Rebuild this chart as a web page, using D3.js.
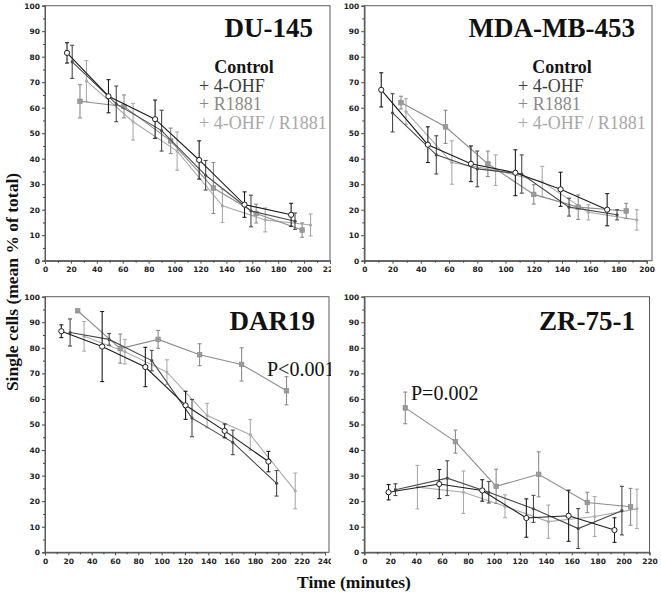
<!DOCTYPE html>
<html><head><meta charset="utf-8">
<script src="https://cdn.jsdelivr.net/npm/d3@7"></script>
<style>html,body{margin:0;padding:0;background:#fff}svg{display:block}</style>
</head><body>
<svg id="chart" width="661" height="596"></svg>
<script>
// ---------- data ----------
const seriesNames = ["Control", "+ 4-OHF", "+ R1881", "+ 4-OHF / R1881"];
const panelTitles = ["DU-145", "MDA-MB-453", "DAR19", "ZR-75-1"];
const yTicks = [0,10,20,30,40,50,60,70,80,90,100];
const xTicks220 = [0,20,40,60,80,100,120,140,160,180,200,220];
const xTicks200 = [0,20,40,60,80,100,120,140,160,180,200];
const xTicks240 = [0,20,40,60,80,100,120,140,160,180,200,220,240];

// series order: Control, 4-OHF, R1881, 4-OHF/R1881
const du145Time = [[17,49,85,119,154,190],[21,55,90,124,159,193],[27,61,97,130,163,198.5],[32,68,102,137,170,205]];
const du145Mean = [[81.5,64.5,55.5,39.5,22,18],[78,61.5,51,33.5,19.5,15.5],[62.5,60.5,47,28.5,18.5,12],[70.5,54.5,43,21.5,16,14]];
const du145Err  = [[4,6.5,7.5,7.5,5,4.5],[6.5,7,8,5.8,6.2,3.2],[6.5,4.5,5,10,3.7,2.8],[8,7.2,7.5,6.5,4.7,4.3]];

const mdaTime = [[12,45,75.5,107,139,172],[20,51,80,111.5,145,179],[26,57.5,87.5,120,151.5,185.5],[29.5,62,93,126,158.7,193]];
const mdaMean = [[67,45.5,38,34.5,28,20],[58,41.5,36,34,21,18],[62,52.5,38,26,21,19.5],[58.5,38.5,35.5,31,19,16]];
const mdaErr  = [[6.7,7,7,9,6.7,6.3],[7.5,7.5,7,7.5,3.5,2],[2.5,6.5,5,3.8,4.8,3],[5,8.5,6,6,3,4]];

const dar19Time = [[14,49,86,120.5,154,191.5],[21.5,55,91.5,126,161,198.5],[28,64.5,97,132.5,168.5,207],[33.5,68.5,104.5,139,176,214.5]];
const dar19Mean = [[86.5,80.5,72.5,57.5,47.5,35.5],[86,83.3,75,52.5,43,27],[94.5,79.7,83.3,77.3,73.5,63.2],[84.5,78.5,70.5,53.5,46,24]];
const dar19Err  = [[2.5,13.7,7.7,5.5,2.7,4],[5.3,2.3,4,7.3,4.8,5],[0,5.7,3.5,4.3,6.5,5.5],[5.8,4.8,4.8,4.8,6,7]];

const zrTime = [[18.7,57.8,91,125,157.6,193],[24,64,96,130.5,165,198.7],[31.6,70.3,101.7,134.5,172,205.4],[41,76.5,108.5,142,177.7,210.3]];
const zrMean = [[23.5,26.7,24.2,13.4,14.3,8.7],[24.5,29,23.5,17,9.3,16.3],[56.5,43.3,25.8,30.5,19.5,17.8],[25.5,23.5,18,12,14,17]];
const zrErr  = [[3,5.7,4.2,7.5,10,4.8],[2.3,6.8,4.2,5.3,7.8,9.5],[6.2,4.5,6.7,8.8,4,7.2],[8.5,8.3,4.5,6.5,7.8,7.7]];

const pLabels = ["", "", "P<0.001", "P=0.002"];

// ---------- styles ----------
const lineColors = ["#1c1c1c", "#4a4a4a", "#8c8c8c", "#ababab"];
const legendColors = ["#151515", "#3c3c3c", "#8a8a8a", "#a8a8a8"];
const serif = "'Liberation Serif','Times New Roman',serif";
const sans = "'DejaVu Sans',Verdana,sans-serif";

const svg = d3.select("#chart");

const defs = svg.append("defs");
defs.append("clipPath").attr("id","leftClip").append("rect")
  .attr("x",0).attr("y",0).attr("width",331).attr("height",596);

const layouts = [
  {time: du145Time, mean: du145Mean, err: du145Err, xd:[0,220], xr:[45,330], yr:[260.7,5.7], boxR:330, xt:xTicks220, clip:true,
   title:{x:313, y:37}, legend:{cx:244, x:199, y:73}, p:null},
  {time: mdaTime, mean: mdaMean, err: mdaErr, xd:[0,200], xr:[364.3,646.7], yr:[260.7,5.7], boxR:652, xt:xTicks200, clip:false,
   title:{x:635, y:37}, legend:{cx:562, x:518, y:73}, p:null},
  {time: dar19Time, mean: dar19Mean, err: dar19Err, xd:[0,240], xr:[45,325], yr:[552.3,296.7], boxR:329, xt:xTicks240, clip:true,
   title:{x:315, y:330}, legend:null, p:{x:267, y:376}},
  {time: zrTime, mean: zrMean, err: zrErr, xd:[0,220], xr:[364.3,649.5], yr:[552.3,296.7], boxR:649.5, xt:xTicks220, clip:false,
   title:{x:635, y:330}, legend:null, p:{x:411, y:399.5}}
];

layouts.forEach((L, pi) => {
  const g = svg.append("g");
  if (L.clip) g.attr("clip-path","url(#leftClip)");
  const x = d3.scaleLinear().domain(L.xd).range(L.xr);
  const y = d3.scaleLinear().domain([0,100]).range(L.yr);

  // frame
  g.append("rect").attr("x", L.xr[0]).attr("y", L.yr[1])
    .attr("width", L.boxR - L.xr[0]).attr("height", L.yr[0]-L.yr[1])
    .attr("fill","none").attr("stroke","#5a5a5a").attr("stroke-width",1);

  // y axis
  const yAxis = d3.axisLeft(y).tickValues(yTicks).tickSize(3).tickPadding(2).tickFormat(d3.format("d"));
  g.append("g").attr("transform",`translate(${L.xr[0]},0)`).call(yAxis);
  const yMinor = d3.axisLeft(y).tickValues(d3.range(5,100,10)).tickSize(2).tickFormat("");
  g.append("g").attr("transform",`translate(${L.xr[0]},0)`).call(yMinor);
  // x axis
  const xAxis = d3.axisBottom(x).tickValues(L.xt).tickSize(3).tickPadding(3).tickFormat(d3.format("d"));
  g.append("g").attr("transform",`translate(0,${L.yr[0]})`).call(xAxis);
  const xMinor = d3.axisBottom(x).tickValues(d3.range(10, L.xd[1], 20)).tickSize(2).tickFormat("");
  g.append("g").attr("transform",`translate(0,${L.yr[0]})`).call(xMinor);
  g.selectAll(".domain").attr("stroke","#5a5a5a");
  g.selectAll(".tick line").attr("stroke","#444");
  g.selectAll(".tick text").attr("font-family",sans).attr("font-weight","bold")
    .attr("font-size","7.5px").attr("fill","#222");

  // series (draw lighter first)
  [3,2,1,0].forEach(si => {
    const pts = L.time[si].map((t,i) => ({t, m: L.mean[si][i], e: L.err[si][i]}));
    const col = lineColors[si];
    const line = d3.line().x(d => x(d.t)).y(d => y(d.m));
    g.append("path").datum(pts).attr("d", line).attr("fill","none")
      .attr("stroke", col).attr("stroke-width", 1.1);
    const eb = g.append("g").attr("stroke", col).attr("stroke-width", 1.1);
    pts.filter(d => d.e > 0).forEach(d => {
      eb.append("line").attr("x1",x(d.t)).attr("x2",x(d.t)).attr("y1",y(d.m-d.e)).attr("y2",y(d.m+d.e));
      eb.append("line").attr("x1",x(d.t)-2).attr("x2",x(d.t)+2).attr("y1",y(d.m-d.e)).attr("y2",y(d.m-d.e));
      eb.append("line").attr("x1",x(d.t)-2).attr("x2",x(d.t)+2).attr("y1",y(d.m+d.e)).attr("y2",y(d.m+d.e));
    });
    const mk = g.append("g");
    pts.forEach(d => {
      if (si === 0) {
        mk.append("circle").attr("cx",x(d.t)).attr("cy",y(d.m)).attr("r",2.6)
          .attr("fill","#fff").attr("stroke",col).attr("stroke-width",1);
      } else if (si === 2) {
        mk.append("rect").attr("x",x(d.t)-2.3).attr("y",y(d.m)-2.3).attr("width",4.6).attr("height",4.6)
          .attr("fill","#9a9a9a").attr("stroke","#8a8a8a").attr("stroke-width",0.6);
      } else {
        mk.append("circle").attr("cx",x(d.t)).attr("cy",y(d.m)).attr("r",1.6).attr("fill",col);
      }
    });
  });

  // title
  svg.append("text").attr("x", L.title.x).attr("y", L.title.y).attr("text-anchor","end")
    .attr("font-family", serif).attr("font-weight","bold").attr("font-size","27px").attr("fill","#111")
    .text(panelTitles[pi]);

  // legend
  if (L.legend) {
    seriesNames.forEach((s, si) => {
      const t = svg.append("text").attr("y", L.legend.y + si*18.7)
        .attr("font-family", serif).attr("font-size","18px").attr("fill", legendColors[si]);
      if (si === 0) t.attr("x", L.legend.cx).attr("text-anchor","middle").attr("font-weight","bold").text(s);
      else t.attr("x", L.legend.x).attr("font-weight","normal").text(s);
    });
  }
  if (L.p) {
    const pt = svg.append("text").attr("x", L.p.x).attr("y", L.p.y)
      .attr("font-family", serif).attr("font-size","20px").attr("fill","#111").text(pLabels[pi]);
    if (L.clip) pt.attr("clip-path","url(#leftClip)");
  }
});

// axis titles
svg.append("text").attr("transform","translate(18,282) rotate(-90)").attr("text-anchor","middle")
  .attr("font-family", serif).attr("font-weight","bold").attr("font-size","17.5px").attr("fill","#111")
  .text("Single cells (mean % of total)");
svg.append("text").attr("x", 354).attr("y", 588).attr("text-anchor","middle")
  .attr("font-family", serif).attr("font-weight","bold").attr("font-size","17.5px").attr("fill","#111")
  .text("Time (minutes)");
</script>
</body></html>
